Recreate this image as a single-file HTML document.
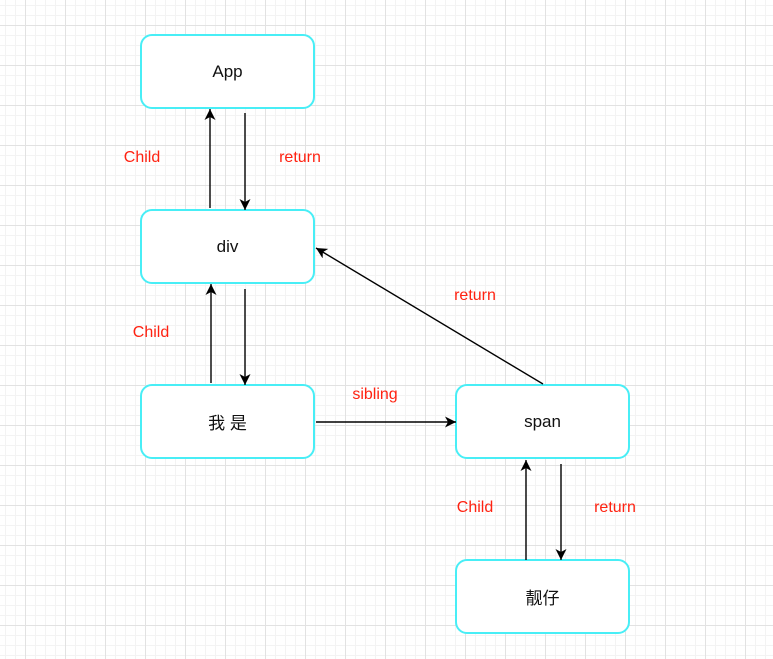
<!DOCTYPE html>
<html><head><style>
html,body{margin:0;padding:0}
body{width:773px;height:659px;overflow:hidden;background-color:#fff;
background-image:linear-gradient(#e2e2e2 1px,transparent 1px),linear-gradient(90deg,#e2e2e2 1px,transparent 1px),linear-gradient(#f3f3f3 1px,transparent 1px),linear-gradient(90deg,#f3f3f3 1px,transparent 1px);
background-size:40px 40px,40px 40px,10px 10px,10px 10px;background-position:-15px -15px,-15px -15px,-5px -5px,-5px -5px;
font-family:"Liberation Sans","Noto Sans CJK SC",sans-serif;position:relative}
.b{position:absolute;box-sizing:border-box;width:175px;height:75px;border:2px solid #48eef6;border-radius:12px;background:#fff;display:flex;align-items:center;justify-content:center;font-size:17px;color:#111}
.l{position:absolute;color:#f21;font-size:16px;transform:translate(-50%,-50%);white-space:nowrap}
svg{position:absolute;left:0;top:0}
</style></head><body>
<div class="b" style="left:140px;top:34px">App</div>
<div class="b" style="left:140px;top:209px">div</div>
<div class="b" style="left:140px;top:384px">我 是</div>
<div class="b" style="left:455px;top:384px">span</div>
<div class="b" style="left:455px;top:559px">靓仔</div>
<svg width="773" height="659">
<defs><marker id="a" markerWidth="12" markerHeight="12" refX="11" refY="5.5" orient="auto" markerUnits="userSpaceOnUse"><path d="M0,0 L11,5.5 L0,11 L3,5.5 z" fill="#000"/></marker></defs>
<g stroke="#000" stroke-width="1.4" fill="none" marker-end="url(#a)">
<line x1="210" y1="208" x2="210" y2="109"/>
<line x1="245" y1="113" x2="245" y2="210"/>
<line x1="211" y1="383" x2="211" y2="284"/>
<line x1="245" y1="289" x2="245" y2="385"/>
<line x1="316" y1="422" x2="456" y2="422"/>
<line x1="543" y1="384" x2="316" y2="248"/>
<line x1="526" y1="560" x2="526" y2="460"/>
<line x1="561" y1="464" x2="561" y2="560"/>
</g></svg>
<div class="l" style="left:142px;top:158px">Child</div>
<div class="l" style="left:300px;top:158px">return</div>
<div class="l" style="left:151px;top:333px">Child</div>
<div class="l" style="left:475px;top:296px">return</div>
<div class="l" style="left:375px;top:395px">sibling</div>
<div class="l" style="left:475px;top:508px">Child</div>
<div class="l" style="left:615px;top:508px">return</div>
</body></html>
